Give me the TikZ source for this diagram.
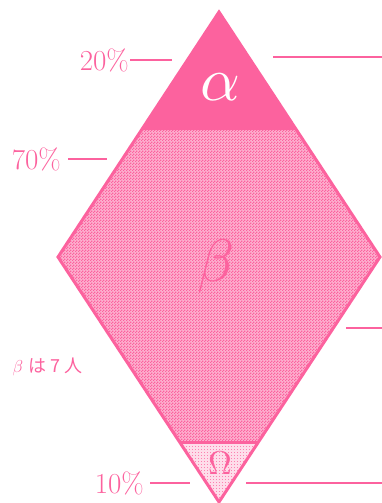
\documentclass[tikz,border=0pt]{standalone}
\usepackage{fontspec}
\newfontfamily\cjk{Noto Sans CJK JP}
\usetikzlibrary{calc,patterns}
\definecolor{pk}{RGB}{252,98,158}
\colorlet{pkmid}{pk!50!white}
\colorlet{pklight}{pk!22!white}
\pgfdeclarepatternformonly{checker}{\pgfqpoint{0pt}{0pt}}{\pgfqpoint{3pt}{3pt}}{\pgfqpoint{3pt}{3pt}}{%
  \pgfpathrectangle{\pgfqpoint{0pt}{0pt}}{\pgfqpoint{1.5pt}{1.5pt}}%
  \pgfpathrectangle{\pgfqpoint{1.5pt}{1.5pt}}{\pgfqpoint{1.5pt}{1.5pt}}%
  \pgfusepath{fill}}
\pgfdeclarepatternformonly{finedots}{\pgfqpoint{0pt}{0pt}}{\pgfqpoint{2.5pt}{2.5pt}}{\pgfqpoint{2.5pt}{2.5pt}}{%
  \pgfpathrectangle{\pgfqpoint{0pt}{0pt}}{\pgfqpoint{1pt}{1pt}}%
  \pgfusepath{fill}}
\tikzset{
  pct/.style={text=pk,font=\fontsize{29}{29}\selectfont,inner sep=1pt},
  tick/.style={draw=pk,line width=1.8pt},
  outline/.style={draw=pk,line width=3pt,line join=miter},
}
\begin{document}
\begin{tikzpicture}[x=1pt,y=-1pt]
\useasboundingbox (0,0) rectangle (382,503);
% diamond vertices
\coordinate (T) at (219,12);
\coordinate (L) at (58,257);
\coordinate (B) at (219,502);
\coordinate (R) at (380,257);
\coordinate (aL) at ($(T)!0.4816!(L)$);
\coordinate (aR) at ($(T)!0.4816!(R)$);
\coordinate (oL) at ($(B)!0.241!(L)$);
\coordinate (oR) at ($(B)!0.241!(R)$);
% beta body
\fill[pkmid] (T) -- (L) -- (B) -- (R) -- cycle;
\fill[pattern=checker,pattern color=pk] (T) -- (L) -- (B) -- (R) -- cycle;
% alpha
\fill[pk] (T) -- (aL) -- (aR) -- cycle;
% omega
\fill[white] (oL) -- (B) -- (oR) -- cycle;
\fill[pklight] (oL) -- (B) -- (oR) -- cycle;
\fill[pattern=finedots,pattern color=pk!80!white] (oL) -- (B) -- (oR) -- cycle;
\draw[outline] (T) -- (L) -- (B) -- (R) -- cycle;
\draw[outline] (oL) -- (oR);
% region labels
\node[text=white,scale=6.2,inner sep=0pt] (alpha) at (220,87) {$\alpha$};
\node[text=pk,scale=6,inner sep=0pt] (beta) at (216,266) {$\beta$};
\node[text=pk,scale=3.3,inner sep=0pt] (omega) at (220,463) {$\Omega$};
% left labels
\node[pct,anchor=east] (p20) at (130,60) {20\%};
\coordinate (p20e) at (172,60);
\draw[tick] (p20.east) -- (p20e);
\node[pct,anchor=east] (p70) at (62,159) {70\%};
\coordinate (p70e) at (107,159);
\draw[tick] ([xshift=6pt]p70.east) -- (p70e);
\node[pct,anchor=east] (p10) at (145,483) {10\%};
\coordinate (p10e) at (190,483);
\draw[tick] ([xshift=5pt]p10.east) -- (p10e);
\node[text=pk,font=\fontsize{18}{18}\selectfont,anchor=west] (note) at (9,367) {$\beta$\ {\cjk は\ 7\ 人}};
% right ticks
\coordinate (r1a) at (273,57); \coordinate (r1b) at (382,57);
\coordinate (r2a) at (346,328); \coordinate (r2b) at (382,328);
\coordinate (r3a) at (246,483); \coordinate (r3b) at (382,483);
\draw[tick] (r1a) -- (r1b);
\draw[tick] (r2a) -- (r2b);
\draw[tick] (r3a) -- (r3b);
\end{tikzpicture}
\end{document}
